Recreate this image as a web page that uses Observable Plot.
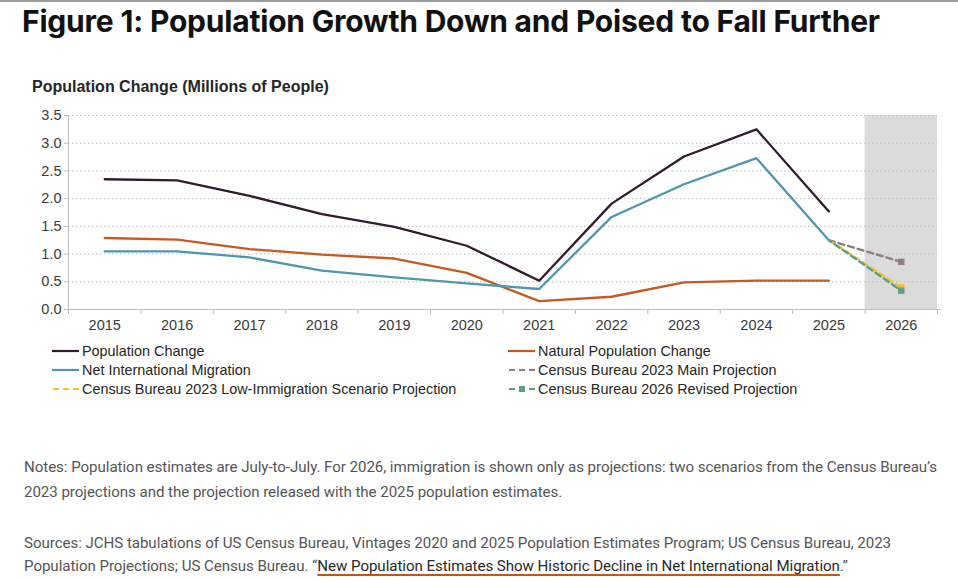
<!DOCTYPE html>
<html>
<head>
<meta charset="utf-8">
<script src="https://cdn.jsdelivr.net/npm/d3@7"></script>
<script src="https://cdn.jsdelivr.net/npm/@observablehq/plot@0.6"></script>
<style>
  html, body { margin: 0; padding: 0; background: #fff; }
  #page { position: relative; width: 958px; height: 580px; overflow: hidden; }
  #topbar { position: absolute; left: 0; top: 0; width: 958px; height: 2px; background: #9a9a9a; }
  #title { position: absolute; left: 22px; top: 3px; font: 700 30px Inter, "Noto Sans", sans-serif; color: #111; white-space: nowrap; letter-spacing: -0.2px; }
  #ytitle { position: absolute; left: 32px; top: 78px; font: 700 16px "Liberation Sans", Arial, sans-serif; color: #262626; white-space: nowrap; }
  #chart { position: absolute; left: 0; top: 75px; }
  .legend-item { position: absolute; display: flex; align-items: center; font: 14.4px "Liberation Sans", Arial, sans-serif; color: #262626; white-space: nowrap; }
  .legend-item svg { margin-right: 2px; }
  .note { position: absolute; left: 24px; font: 15.1px Roboto, "Noto Sans", sans-serif; color: #555; white-space: nowrap; letter-spacing: -0.05px; }
  .note a { color: #2a2a2a; text-decoration: underline; text-decoration-color: #c0561f; text-decoration-thickness: 2px; text-underline-offset: 3px; }
</style>
</head>
<body>
<div id="page">
  <div id="topbar"></div>
  <div id="title">Figure 1: Population Growth Down and Poised to Fall Further</div>
  <div id="ytitle">Population Change (Millions of People)</div>
  <div id="chart"></div>
  <div id="legend"></div>
  <div class="note" style="top:458px">Notes: Population estimates are July-to-July. For 2026, immigration is shown only as projections: two scenarios from the Census Bureau’s</div>
  <div class="note" style="top:483px">2023 projections and the projection released with the 2025 population estimates.</div>
  <div class="note" style="top:534px">Sources: JCHS tabulations of US Census Bureau, Vintages 2020 and 2025 Population Estimates Program; US Census Bureau, 2023</div>
  <div class="note" style="top:557px">Population Projections; US Census Bureau. “<a>New Population Estimates Show Historic Decline in Net International Migration</a>.”</div>
</div>
<script>
// Annual population change, millions of people (July-to-July)
const years = [2015, 2016, 2017, 2018, 2019, 2020, 2021, 2022, 2023, 2024, 2025];
const populationChange = [2.35, 2.33, 2.05, 1.72, 1.49, 1.15, 0.52, 1.91, 2.76, 3.25, 1.77];
const naturalChange = [1.29, 1.26, 1.09, 0.99, 0.92, 0.66, 0.15, 0.23, 0.49, 0.52, 0.52];
const netMigration = [1.05, 1.05, 0.94, 0.70, 0.58, 0.47, 0.37, 1.67, 2.26, 2.73, 1.25];

// Net international migration projections for 2026
const projectionYears = [2025, 2026];
const mainProjection = [1.25, 0.86];
const lowImmigrationProjection = [1.25, 0.40];
const revisedProjection = [1.25, 0.34];

const xTickLabels = [2015, 2016, 2017, 2018, 2019, 2020, 2021, 2022, 2023, 2024, 2025, 2026];
const yTicks = [0, 0.5, 1.0, 1.5, 2.0, 2.5, 3.0, 3.5];
const projectedYear = 2026;

const colors = {
  population: "#2f1c2c",
  natural: "#c55a22",
  migration: "#4f96ae",
  main: "#8d7f7a",
  low: "#f1c232",
  revised: "#5b9f8c"
};

const rows = (xs, ys) => xs.map((x, i) => ({x, y: ys[i]}));
const boundaries = [...xTickLabels.map(d => d - 0.5), xTickLabels[xTickLabels.length - 1] + 0.5];

const chart = Plot.plot({
  width: 958,
  height: 270,
  marginLeft: 68,
  marginRight: 21,
  marginTop: 40,
  marginBottom: 36,
  style: {fontFamily: "'Liberation Sans', Arial, sans-serif", fontSize: "14.5px", background: "transparent"},
  x: {domain: [2014.5, 2026.5], label: null},
  y: {domain: [0, 3.5], label: null},
  marks: [
    // projection-year band
    Plot.rect([projectedYear], {x1: d => d - 0.5, x2: d => d + 0.5, y1: 0, y2: 3.5, fill: "#dcdbdb"}),
    Plot.ruleY(yTicks.filter(d => d > 0), {stroke: "#bdbdbd", strokeDasharray: "1.5,2.5", strokeWidth: 1}),
    Plot.ruleX([2014.5], {stroke: "#bfbfbf"}),
    Plot.ruleY([0], {stroke: "#bfbfbf", x1: 2014.5, x2: 2026.55}),
    Plot.axisY({ticks: yTicks, tickSize: 4, tickPadding: 3, tickFormat: d3.format(".1f"), stroke: "#bfbfbf", fill: "#3a3a3a", fontSize: 14.5, label: null}),
    Plot.axisX({ticks: boundaries, tickSize: 5, tickFormat: () => "", stroke: "#bfbfbf", label: null}),
    Plot.axisX({ticks: xTickLabels, tickSize: 0, tickPadding: 10, tickFormat: d => String(d), fill: "#3a3a3a", fontSize: 14.5, label: null}),
    Plot.line(rows(years, naturalChange), {x: "x", y: "y", stroke: colors.natural, strokeWidth: 2.3}),
    Plot.line(rows(years, netMigration), {x: "x", y: "y", stroke: colors.migration, strokeWidth: 2.3}),
    Plot.line(rows(years, populationChange), {x: "x", y: "y", stroke: colors.population, strokeWidth: 2.3}),
    Plot.line(rows(projectionYears, mainProjection), {x: "x", y: "y", stroke: colors.main, strokeWidth: 2.4, strokeDasharray: "6,4"}),
    Plot.line(rows(projectionYears, lowImmigrationProjection), {x: "x", y: "y", stroke: colors.low, strokeWidth: 2.4, strokeDasharray: "6,4"}),
    Plot.line(rows(projectionYears, revisedProjection), {x: "x", y: "y", stroke: colors.revised, strokeWidth: 2.4, strokeDasharray: "6,4", strokeDashoffset: 3}),
    Plot.dot([{x: projectedYear, y: mainProjection[1]}], {x: "x", y: "y", symbol: "square", r: 3.6, fill: colors.main}),
    Plot.dot([{x: projectedYear, y: lowImmigrationProjection[1]}], {x: "x", y: "y", symbol: "square", r: 3.6, fill: colors.low}),
    Plot.dot([{x: projectedYear, y: revisedProjection[1]}], {x: "x", y: "y", symbol: "square", r: 3.6, fill: colors.revised})
  ]
});
document.getElementById("chart").appendChild(chart);

// Legend
const legendItems = [
  {label: "Population Change", color: colors.population, kind: "solid", left: 52, top: 351},
  {label: "Natural Population Change", color: colors.natural, kind: "solid", left: 508, top: 351},
  {label: "Net International Migration", color: colors.migration, kind: "solid", left: 52, top: 370},
  {label: "Census Bureau 2023 Main Projection", color: colors.main, kind: "dash", left: 508, top: 370},
  {label: "Census Bureau 2023 Low-Immigration Scenario Projection", color: colors.low, kind: "dash", left: 52, top: 389},
  {label: "Census Bureau 2026 Revised Projection", color: colors.revised, kind: "marker", left: 508, top: 389}
];
const legend = d3.select("#legend");
for (const item of legendItems) {
  const div = legend.append("div").attr("class", "legend-item")
    .style("left", item.left + "px").style("top", (item.top - 9) + "px").style("height", "18px");
  const svg = div.append("svg").attr("width", 28).attr("height", 10);
  if (item.kind === "solid") {
    svg.append("line").attr("x1", 0).attr("x2", 27).attr("y1", 5).attr("y2", 5)
      .attr("stroke", item.color).attr("stroke-width", 2.2);
  } else {
    svg.append("line").attr("x1", 1).attr("x2", 27).attr("y1", 5).attr("y2", 5)
      .attr("stroke", item.color).attr("stroke-width", 2).attr("stroke-dasharray", "6,4");
    if (item.kind === "marker") {
      svg.append("rect").attr("x", 11).attr("y", 2).attr("width", 6).attr("height", 6).attr("fill", item.color);
    }
  }
  div.append("span").text(item.label);
}
</script>
</body>
</html>
